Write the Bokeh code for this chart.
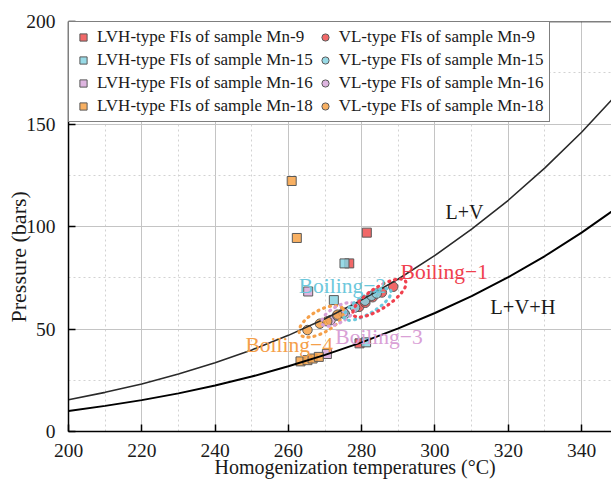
import math
from bokeh.plotting import figure
from bokeh.models import Range1d, SingleIntervalTicker, Legend, LegendItem, Label, Span, Title
from bokeh.embed import file_html
from bokeh.resources import INLINE

FONT = "Liberation Serif"

# ---- data ----
curve_T = [200, 210, 220, 230, 240, 250, 260, 270, 280, 290, 300, 310, 320, 330, 340, 350]
lv_P = [15.5, 19.1, 23.2, 28.0, 33.5, 39.8, 46.9, 55.0, 64.2, 74.4, 85.9, 98.7, 112.8, 128.6, 146.0, 165.2]
lvh_P = [10.0, 12.5, 15.3, 18.6, 22.4, 26.8, 31.8, 37.4, 43.5, 50.3, 57.8, 66.0, 75.3, 85.6, 97.0, 109.5]

lvh9_T = [276.6, 281.4, 279.4]
lvh9_P = [82.0, 97.0, 43.0]
lvh15_T = [275.3, 272.4, 281.2]
lvh15_P = [82.0, 64.1, 43.5]
lvh16_T = [265.4, 270.5]
lvh16_P = [68.3, 37.8]
lvh18_T = [260.9, 262.3, 263.3, 265.2, 266.6, 268.3]
lvh18_P = [122.2, 94.4, 34.2, 34.8, 35.6, 36.4]

vl9_T = [279.3, 281.0, 283.0, 285.5, 288.6]
vl9_P = [60.8, 62.8, 65.5, 67.8, 70.6]
vl15_T = [275.4, 278.2, 280.9, 282.7, 284.1]
vl15_P = [57.3, 60.5, 63.8, 66.2, 67.3]
vl16_T = [271.5, 273.3, 275.0]
vl16_P = [54.3, 56.5, 58.0]
vl18_T = [265.2, 268.6, 270.6, 273.4]
vl18_P = [49.5, 52.6, 53.8, 57.0]

samples = ["Mn-9", "Mn-15", "Mn-16", "Mn-18"]
colors = ["#EE4D4D", "#86D4E2", "#D8A8DA", "#F7A246"]
text_colors = ["#F0404E", "#6CC8DC", "#D9A0D6", "#F5A04A"]

# boiling groups annotations: label text, label anchor (T, P), ellipse centre (T, P)
boil_labels = ["Boiling\u22121", "Boiling\u22122", "Boiling\u22123", "Boiling\u22124"]
boil_label_T = [290.6, 262.8, 272.8, 248.3]
boil_label_P = [77.7, 71.2, 46.0, 42.0]
boil_ell_T = [284.85, 281.6, 273.7, 269.0]
boil_ell_P = [65.1, 62.0, 57.1, 53.7]
boil_ell_w = [62, 54, 38, 50]
boil_ell_h = [21, 18, 16, 22]
boil_ell_ang = [33, 31, 30, 30]

p = figure(frame_width=543, frame_height=410,
           x_range=Range1d(200, 348.16), y_range=Range1d(0, 200),
           output_backend="svg", toolbar_location=None,
           min_border_left=68, min_border_right=0, min_border_top=21, min_border_bottom=56)
p.outline_line_color = None
p.background_fill_color = "white"

p.xaxis.ticker = SingleIntervalTicker(interval=20, num_minor_ticks=2)
p.yaxis.ticker = SingleIntervalTicker(interval=50, num_minor_ticks=2)
p.xgrid.ticker = p.xaxis[0].ticker
p.ygrid.ticker = p.yaxis[0].ticker
for ax in (p.xaxis[0], p.yaxis[0]):
    ax.axis_line_color = "black"
    ax.axis_line_width = 1.5
    ax.major_tick_in = 7
    ax.major_tick_out = 0
    ax.major_tick_line_width = 1.5
    ax.major_tick_line_color = "black"
    ax.minor_tick_in = 0
    ax.minor_tick_out = 0
    ax.major_label_text_font = FONT
    ax.major_label_text_font_size = "19.5px"
    ax.major_label_text_color = "#1a1a1a"
p.xaxis[0].major_label_standoff = 12
p.yaxis[0].major_label_standoff = 13

for g in (p.xgrid[0], p.ygrid[0]):
    g.grid_line_color = "#c4c4c4"
    g.grid_line_width = 1
    g.minor_grid_line_color = "#d2d2d2"
    g.minor_grid_line_dash = "2 3"
    g.minor_grid_line_width = 1

p.add_layout(Span(location=200, dimension="width", line_color="black", line_width=1.5))

lvh_T = [lvh9_T, lvh15_T, lvh16_T, lvh18_T]
lvh_Pv = [lvh9_P, lvh15_P, lvh16_P, lvh18_P]
vl_T = [vl9_T, vl15_T, vl16_T, vl18_T]
vl_Pv = [vl9_P, vl15_P, vl16_P, vl18_P]

sq_r = []
ci_r = []
for i in range(4):
    r = p.scatter(lvh_T[i], lvh_Pv[i], marker="square", size=9, fill_color=colors[i],
                  fill_alpha=0.85, line_color="#5a5a5a", line_width=1)
    sq_r.append(r)
for i in range(4):
    r = p.scatter(vl_T[i], vl_Pv[i], marker="circle", size=9.5, fill_color=colors[i],
                  fill_alpha=0.85, line_color="#5a5a5a", line_width=1)
    ci_r.append(r)

p.line(curve_T, lv_P, line_color="#2a2a2a", line_width=1.6)
p.line(curve_T, lvh_P, line_color="black", line_width=2)

for i in [3, 2, 1, 0]:
    p.ellipse(x=[boil_ell_T[i]], y=[boil_ell_P[i]], width=[boil_ell_w[i]], height=[boil_ell_h[i]],
              angle=[math.radians(boil_ell_ang[i])], width_units="screen", height_units="screen",
              fill_color=None, line_color=text_colors[i], line_width=3.2, line_dash="1 5",
              line_cap="round")
    p.add_layout(Label(x=boil_label_T[i], y=boil_label_P[i], text=boil_labels[i],
                       text_font=FONT, text_font_size="21.5px", text_color=text_colors[i],
                       text_baseline="alphabetic", text_align="left"))

p.add_layout(Label(x=302.9, y=107.0, text="L+V", text_font=FONT, text_font_size="20px",
                   text_color="#1a1a1a", text_baseline="alphabetic"))
p.add_layout(Label(x=315.1, y=60.6, text="L+V+H", text_font=FONT, text_font_size="20.5px",
                   text_color="#1a1a1a", text_baseline="alphabetic"))

# axis titles as side-panel titles
p.add_layout(Title(text="Pressure (bars)", align="left", offset=109, vertical_align="bottom",
                   standoff=-14, text_font=FONT, text_font_size="22px",
                   text_font_style="normal", text_color="#1a1a1a"), "left")
p.add_layout(Title(text="Homogenization temperatures (\u00b0C)", align="left", offset=146,
                   vertical_align="top", standoff=-8, text_font=FONT, text_font_size="20px",
                   text_font_style="normal", text_color="#1a1a1a"), "below")

items = []
for i in range(4):
    items.append(LegendItem(label="LVH-type FIs of sample " + samples[i], renderers=[sq_r[i]]))
for i in range(4):
    items.append(LegendItem(label="VL-type FIs of sample " + samples[i], renderers=[ci_r[i]]))
legend = Legend(items=items, location="top_left", ncols=2, margin=0, padding=5,
                spacing=3, glyph_width=18, glyph_height=18, label_standoff=5,
                label_text_font=FONT, label_text_font_size="17px", label_text_color="#1a1a1a",
                border_line_color="black", border_line_width=1.5,
                background_fill_color="white", background_fill_alpha=1)
p.add_layout(legend)

open("out.html", "w").write(file_html(p, INLINE))
